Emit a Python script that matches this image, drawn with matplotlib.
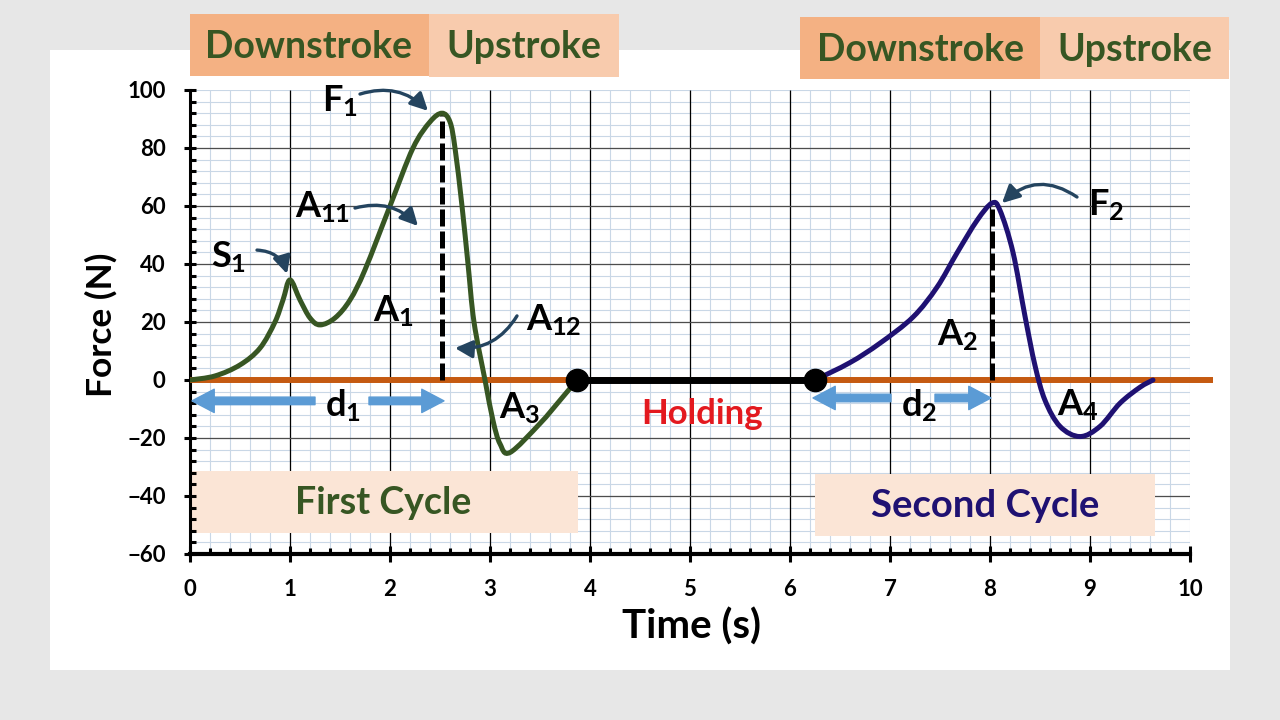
import numpy as np
import matplotlib
matplotlib.use('Agg')
import matplotlib.pyplot as plt
from matplotlib.path import Path
from matplotlib.patches import PathPatch, Rectangle
from matplotlib.ticker import MultipleLocator

# ---------------- data ----------------
t_first = [0, 0.25, 0.5, 0.7, 0.85, 0.93, 1.0, 1.1, 1.2, 1.3, 1.45, 1.6, 1.75, 2.0, 2.23, 2.4, 2.52,
           2.6, 2.65, 2.72, 2.78, 2.84, 2.95, 3.03, 3.1, 3.2, 3.5, 3.7, 3.87]
f_first = [0, 1.4, 5.2, 11, 20, 27.6, 34.5, 27.6, 21.4, 19, 21.4, 27.6, 38, 60, 80, 89, 92,
           89, 80, 60, 40, 20, 0, -14, -22, -25, -15, -7, 0]
t_second = [6.25, 6.6, 6.9, 7.23, 7.47, 7.67, 7.87, 8.02, 8.1, 8.23, 8.35, 8.45,
            8.55, 8.7, 8.9, 9.1, 9.3, 9.5, 9.63]
f_second = [0, 6, 12.7, 21.7, 32, 43.8, 55, 61, 58.5, 44, 22, 5,
            -7, -16, -19.5, -16, -8, -2.5, 0]
holding_t = [3.87, 6.25]
holding_f = [0, 0]
peak_t = [2.52, 8.02]
peak_f = [92, 61]
x_ticks = list(range(0, 11))
y_ticks = list(range(-60, 101, 20))
x_minor_step = 0.2
y_minor_step = 4

GREEN = '#375623'
NAVY = '#1f1172'
ORANGE = '#c55a11'
ARROW = '#24445f'
LBLUE = '#5b9bd5'
MINOR_GRID = '#c9d7e6'

plt.rcParams['font.family'] = ['Lato', 'DejaVu Sans']
plt.rcParams['font.weight'] = 'bold'
plt.rcParams['mathtext.fontset'] = 'custom'
plt.rcParams['mathtext.rm'] = 'Lato:bold'
plt.rcParams['mathtext.it'] = 'Lato:bold'
plt.rcParams['mathtext.bf'] = 'Lato:bold'

W, H = 1280, 720
fig = plt.figure(figsize=(12.8, 7.2), dpi=100, facecolor='#e7e7e7')


def fx(px):
    return px / W


def fy(py):
    return 1 - py / H


def frect(x0, y0, x1, y1, color, z=1):
    fig.add_artist(Rectangle((fx(x0), fy(y1)), fx(x1) - fx(x0), fy(y0) - fy(y1),
                             transform=fig.transFigure, facecolor=color,
                             edgecolor='none', zorder=z))


# white slide panel
frect(50, 50, 1230, 670, 'white', z=0)

ax = fig.add_axes([fx(190), fy(554), fx(1190) - fx(190), fy(90) - fy(554)])
ax.set_facecolor('white')
ax.set_zorder(2)
ax.set_xlim(x_ticks[0], x_ticks[-1])
ax.set_ylim(y_ticks[0], y_ticks[-1])
ax.set_xticks(x_ticks)
ax.set_yticks(y_ticks)
ax.xaxis.set_minor_locator(MultipleLocator(x_minor_step))
ax.yaxis.set_minor_locator(MultipleLocator(y_minor_step))

# grid: minor first, then major on top
xm = np.arange(x_ticks[0], x_ticks[-1] + 1e-9, x_minor_step)
ym = np.arange(y_ticks[0], y_ticks[-1] + 1e-9, y_minor_step)
ax.vlines(xm, y_ticks[0], y_ticks[-1], color=MINOR_GRID, lw=0.8, zorder=0.6)
ax.hlines(ym, x_ticks[0], x_ticks[-1], color=MINOR_GRID, lw=0.8, zorder=0.6)
ax.vlines(x_ticks[1:-1], y_ticks[0], y_ticks[-1], color='black', lw=0.9, zorder=0.8)
ax.hlines(y_ticks[1:-1], x_ticks[0], x_ticks[-1], color='#4d4d4d', lw=0.9, zorder=0.8)

for s in ['top', 'right']:
    ax.spines[s].set_visible(False)
ax.spines['left'].set_linewidth(2.2)
ax.spines['bottom'].set_linewidth(3)
ax.tick_params(axis='x', which='major', direction='inout', length=11.5, width=2.2,
               labelsize=16, pad=12)
ax.tick_params(axis='x', which='minor', direction='in', length=4, width=2.2)
ax.tick_params(axis='y', which='major', direction='inout', length=9, width=2.2,
               labelsize=16, pad=13)
ax.tick_params(axis='y', which='minor', direction='in', length=4, width=2.2)
for lab in ax.get_xticklabels() + ax.get_yticklabels():
    lab.set_fontweight('bold')


def smooth_path(xs, ys):
    P = np.column_stack([xs, ys]).astype(float)
    n = len(P)
    verts = [P[0]]
    codes = [Path.MOVETO]
    for i in range(n - 1):
        p0 = P[i - 1] if i > 0 else P[i]
        p1, p2 = P[i], P[i + 1]
        p3 = P[i + 2] if i + 2 < n else P[i + 1]
        verts += [p1 + (p2 - p0) / 6, p2 - (p3 - p1) / 6, p2]
        codes += [Path.CURVE4] * 3
    return Path(verts, codes)


# cycle boxes
ax.add_patch(Rectangle((0, -52.8), 3.88, 21.4, facecolor='#fbe5d6', edgecolor='none', zorder=1.5))
ax.add_patch(Rectangle((6.25, -53.8), 3.4, 21.4, facecolor='#fbe5d6', edgecolor='none', zorder=1.5))
ax.text(1.93, -42.5, 'First Cycle', color=GREEN, fontsize=27, fontweight='bold',
        ha='center', va='center', zorder=3)
ax.text(7.95, -43.5, 'Second Cycle', color=NAVY, fontsize=27.5, fontweight='bold',
        ha='center', va='center', zorder=3)

# zero line
ax.plot([0, 10.23], [0, 0], color=ORANGE, lw=4.3, clip_on=False, zorder=3, solid_capstyle='butt')

# dashed peak lines
for t, f in zip(peak_t, peak_f):
    ln, = ax.plot([t, t], [0, f], color='black', lw=3.6, zorder=3.5)
    ln.set_dashes((3.4, 1.0))

# force curves
ax.add_patch(PathPatch(smooth_path(t_first, f_first), fill=False, edgecolor=GREEN,
                       lw=3.6, zorder=4, capstyle='round'))
ax.add_patch(PathPatch(smooth_path(t_second, f_second), fill=False, edgecolor=NAVY,
                       lw=3.6, zorder=4, capstyle='round'))

# holding
ax.plot(holding_t, holding_f, color='black', lw=5, zorder=4.5, solid_capstyle='butt')
ax.plot(holding_t, holding_f, 'o', color='black', ms=16, zorder=5, clip_on=False)
ax.text(5.12, -11.6, 'Holding', color='#e3191f', fontsize=25, fontweight='bold',
        ha='center', va='center', zorder=5)


# distance arrows
def blue_arrow(x0, x1, y):
    ax.annotate('', xy=(x1, y), xytext=(x0, y), zorder=5,
                arrowprops=dict(arrowstyle='simple,head_length=1.0,head_width=1.05,tail_width=0.34',
                                color=LBLUE, shrinkA=0, shrinkB=0, mutation_scale=16))


blue_arrow(1.25, 0.02, -7.2)
blue_arrow(1.79, 2.54, -7.2)
blue_arrow(7.01, 6.23, -6.2)
blue_arrow(7.45, 8.01, -6.2)

# labels
labels = [
    (r'$F_1$', 1.50, 96.0),
    (r'$A_{11}$', 1.33, 59.7),
    (r'$S_1$', 0.38, 42.4),
    (r'$A_1$', 2.03, 23.8),
    (r'$A_{12}$', 3.64, 20.7),
    (r'$A_3$', 3.29, -9.7),
    (r'$d_1$', 1.53, -9.0),
    (r'$A_2$', 7.67, 15.5),
    (r'$F_2$', 9.16, 60.3),
    (r'$d_2$', 7.29, -9.0),
    (r'$A_4$', 8.88, -8.6),
]
for s, x, y in labels:
    ax.text(x, y, s, fontsize=26, color='black', ha='center', va='center', zorder=6)


# curved pointer arrows
def pointer(x0, y0, x1, y1, rad):
    ax.annotate('', xy=(x1, y1), xytext=(x0, y0), zorder=6, annotation_clip=False,
                arrowprops=dict(arrowstyle='-|>,head_length=0.75,head_width=0.38',
                                connectionstyle=f'arc3,rad={rad}', color=ARROW, lw=2.4,
                                shrinkA=0, shrinkB=0, mutation_scale=14))


pointer(1.70, 98.6, 2.38, 92.8, -0.3)
pointer(1.65, 59.3, 2.28, 53.1, -0.3)
pointer(0.67, 44.8, 0.97, 36.6, -0.35)
pointer(3.27, 22.1, 2.65, 11.0, -0.3)
pointer(8.87, 63.1, 8.12, 61.0, 0.4)

# axis titles
fig.text(fx(691), fy(627), 'Time (s)', fontsize=29, fontweight='bold', ha='center', va='center')
fig.text(fx(101), fy(325), 'Force (N)', fontsize=25.5, fontweight='bold', ha='center',
         va='center', rotation=90)

# stroke header boxes
frect(190, 14, 429, 76, '#f4b183', z=3)
frect(429, 14, 619, 77, '#f8cbad', z=3)
frect(800, 17, 1040, 79, '#f4b183', z=3)
frect(1040, 17, 1229, 79, '#f8cbad', z=3)
for txt, x, y in [('Downstroke', 309, 47), ('Upstroke', 524, 47),
                  ('Downstroke', 920, 50), ('Upstroke', 1135, 50)]:
    fig.text(fx(x), fy(y), txt, fontsize=27, fontweight='bold', color=GREEN,
             ha='center', va='center', zorder=4)

fig.savefig('out.png', dpi=100, facecolor=fig.get_facecolor())
